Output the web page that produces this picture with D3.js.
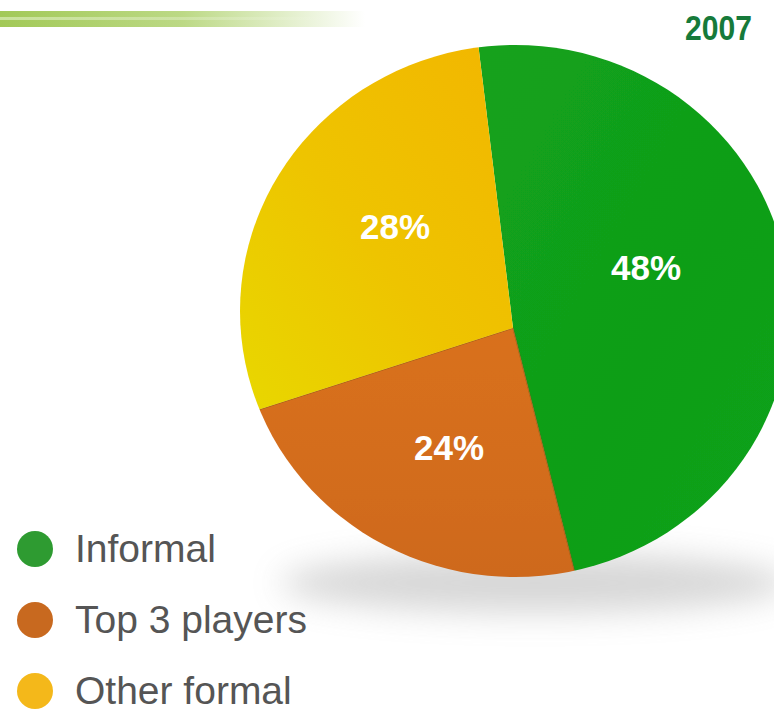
<!DOCTYPE html>
<html>
<head>
<meta charset="utf-8">
<script src="https://cdn.jsdelivr.net/npm/d3@7"></script>
<style>
  html, body { margin: 0; padding: 0; background: #ffffff; }
  svg { display: block; }
</style>
</head>
<body>
<svg id="chart" width="774" height="713"></svg>
<script>
// Market share, 2007
const year = "2007";
const categories = ["Informal", "Top 3 players", "Other formal"];
const shares = [48, 24, 28];
const legendColors = ["#2e9b31", "#c8691f", "#f4b81a"];

const W = 774, H = 713;
const FONT = "'Liberation Sans', Arial, sans-serif";
const svg = d3.select("#chart");
const defs = svg.append("defs");

// header bar gradient
const barGrad = defs.append("linearGradient").attr("id", "barGrad")
  .attr("x1", "0%").attr("x2", "100%").attr("y1", "0%").attr("y2", "0%");
barGrad.append("stop").attr("offset", "0%").attr("stop-color", "#a2c957");
barGrad.append("stop").attr("offset", "50%").attr("stop-color", "#bcd985");
barGrad.append("stop").attr("offset", "100%").attr("stop-color", "#ffffff");

const hiGrad = defs.append("linearGradient").attr("id", "hiGrad")
  .attr("x1", "0%").attr("x2", "100%");
hiGrad.append("stop").attr("offset", "0%").attr("stop-color", "#d4e9ad").attr("stop-opacity", 0.8);
hiGrad.append("stop").attr("offset", "100%").attr("stop-color", "#ffffff").attr("stop-opacity", 0);

svg.append("rect").attr("x", 0).attr("y", 11).attr("width", 365).attr("height", 16)
  .attr("fill", "url(#barGrad)");
svg.append("rect").attr("x", 0).attr("y", 17).attr("width", 330).attr("height", 3)
  .attr("fill", "url(#hiGrad)");

// year title (slightly condensed bold face)
svg.append("text")
  .attr("transform", "translate(752,40) scale(0.86,1)")
  .attr("text-anchor", "end")
  .attr("font-family", FONT)
  .attr("font-weight", "bold")
  .attr("font-size", 35)
  .attr("fill", "#167a3a")
  .text(year);

// soft shadow under the pie
const blur = defs.append("filter").attr("id", "shadowBlur")
  .attr("x", "-30%").attr("y", "-100%").attr("width", "160%").attr("height", "300%");
blur.append("feGaussianBlur").attr("stdDeviation", 16);
svg.append("ellipse")
  .attr("cx", 535).attr("cy", 583).attr("rx", 255).attr("ry", 30)
  .attr("fill", "#a0a0a0").attr("opacity", 0.42)
  .attr("filter", "url(#shadowBlur)");

// pie outline (slightly elliptical disc) used as clip
const disc = { cx: 515, cy: 311, rx: 275, ry: 266 };
defs.append("clipPath").attr("id", "discClip")
  .append("ellipse")
  .attr("cx", disc.cx).attr("cy", disc.cy).attr("rx", disc.rx).attr("ry", disc.ry);

// per-slice gradients
const gradSpecs = [
  { id: "g0", x1: "0%", y1: "0%", x2: "100%", y2: "100%", stops: ["#14a21c", "#0f9e18", "#11a41c"] },
  { id: "g1", x1: "0%", y1: "0%", x2: "0%", y2: "100%", stops: ["#d9701f", "#d26c1d", "#c9651a"] },
  { id: "g2", x1: "100%", y1: "0%", x2: "0%", y2: "100%", stops: ["#f3b400", "#eec400", "#e6de06"] }
];
gradSpecs.forEach(s => {
  const g = defs.append("linearGradient").attr("id", s.id)
    .attr("x1", s.x1).attr("y1", s.y1).attr("x2", s.x2).attr("y2", s.y2);
  s.stops.forEach((c, i) => g.append("stop")
    .attr("offset", (i / (s.stops.length - 1) * 100) + "%").attr("stop-color", c));
});

const hub = { x: 513, y: 328 };
const startDeg = -7;
const pie = d3.pie().sort(null)
  .startAngle(startDeg * Math.PI / 180)
  .endAngle((startDeg + 360) * Math.PI / 180)
  .value(d => d);
const arcs = pie(shares);
const arc = d3.arc().innerRadius(0).outerRadius(340);

const edgeBlur = defs.append("filter").attr("id", "edgeSoft");
edgeBlur.append("feGaussianBlur").attr("stdDeviation", 0.6);

const pieG = svg.append("g").attr("clip-path", "url(#discClip)");
const slices = pieG.append("g").attr("transform", `translate(${hub.x},${hub.y})`)
  .attr("filter", "url(#edgeSoft)");
slices.selectAll("path")
  .data(arcs)
  .join("path")
  .attr("d", arc)
  .attr("fill", (d, i) => `url(#g${i})`)
  .attr("stroke", (d, i) => i === 1 ? "rgba(130,80,10,0.55)" : "none")
  .attr("stroke-width", 1.2);

// value labels inside slices
const labelPos = [
  { x: 646, y: 280 },
  { x: 449, y: 460 },
  { x: 395, y: 239 }
];
svg.append("g").selectAll("text")
  .data(arcs)
  .join("text")
  .attr("x", (d, i) => labelPos[i].x)
  .attr("y", (d, i) => labelPos[i].y)
  .attr("text-anchor", "middle")
  .attr("font-family", FONT)
  .attr("font-weight", "bold")
  .attr("font-size", 35)
  .attr("fill", "#ffffff")
  .text(d => d.data + "%");

// legend
const legendY = d3.scalePoint().domain(categories).range([549, 691]);
const legend = svg.append("g");
const items = legend.selectAll("g")
  .data(categories)
  .join("g")
  .attr("transform", d => `translate(0,${legendY(d)})`);
items.append("circle")
  .attr("cx", 35).attr("cy", 0).attr("r", 18)
  .attr("fill", (d, i) => legendColors[i]);
items.append("text")
  .attr("x", 75).attr("y", 13)
  .attr("font-family", FONT)
  .attr("font-size", 39)
  .attr("fill", "#555555")
  .text(d => d);
</script>
</body>
</html>
